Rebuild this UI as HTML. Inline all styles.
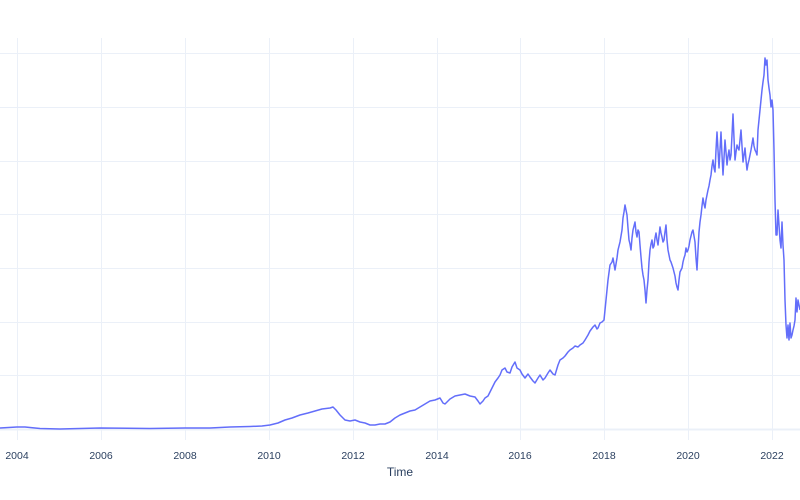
<!DOCTYPE html>
<html><head><meta charset="utf-8"><style>
html,body{margin:0;padding:0;background:#fff;width:800px;height:500px;overflow:hidden}
svg{display:block}
text{font-family:"Liberation Sans",sans-serif;fill:#2a3f5f}
</style></head><body>
<svg width="800" height="500" viewBox="0 0 800 500">
<g stroke="#ebf0f8" stroke-width="1">
<line x1="0" x2="800" y1="53.5" y2="53.5"/>
<line x1="0" x2="800" y1="107.5" y2="107.5"/>
<line x1="0" x2="800" y1="161.5" y2="161.5"/>
<line x1="0" x2="800" y1="214.5" y2="214.5"/>
<line x1="0" x2="800" y1="268.5" y2="268.5"/>
<line x1="0" x2="800" y1="322.5" y2="322.5"/>
<line x1="0" x2="800" y1="375.5" y2="375.5"/>
<line x1="17.5" x2="17.5" y1="38" y2="440"/>
<line x1="101.5" x2="101.5" y1="38" y2="440"/>
<line x1="185.5" x2="185.5" y1="38" y2="440"/>
<line x1="269.5" x2="269.5" y1="38" y2="440"/>
<line x1="353.5" x2="353.5" y1="38" y2="440"/>
<line x1="437.5" x2="437.5" y1="38" y2="440"/>
<line x1="520.5" x2="520.5" y1="38" y2="440"/>
<line x1="604.5" x2="604.5" y1="38" y2="440"/>
<line x1="688.5" x2="688.5" y1="38" y2="440"/>
<line x1="772.5" x2="772.5" y1="38" y2="440"/>
</g>
<line x1="0" x2="800" y1="429.5" y2="429.5" stroke="#ebf0f8" stroke-width="2"/>
<polyline fill="none" stroke="#636efa" stroke-width="1.5" stroke-linejoin="round" points="
0,428 17,427 25,427 40,428.5 60,429 100,428 150,428.5 185,428 210,428 230,427 250,426.5 262,426 270,425 278,423 285,420 292,418 300,415 308,413 315,411 322,409 330,408 333,407 336,410 340,415 345,420 350,421 355,420 360,422 365,423 370,425 375,425 380,424 385,424 390,422 395,418 400,415 405,413 410,411 415,410 420,407 425,404 430,401 435,400 440,398 443,403 445,404 450,399 455,396 460,395 465,394 470,396 475,397 478,401 480,404 483,401 485,398 488,396 490,392 493,386 495,382 498,378 500,375 502,370 505,368 507,372 510,373 512,367 515,362 517,368 520,370 522,374 525,378 528,374 530,377 533,381 535,383 538,378 540,375 543,380 545,378 548,373 550,370 553,374 555,375 558,365 560,360 563,358 565,356 568,352 570,350 573,348 575,346 578,347 580,345 583,343 585,340 588,335 590,331 593,327 595,325 597,329 598,328 600,323 602,322 604,320 606,300 608,280 610,265 612,262 613,258 615,270 617,258 618,250 620,242 622,230 623,218 624,212 625,205 626,210 627,215 628,228 629,240 630,244 631,250 632,238 633,230 634,226 635,222 636,232 637,237 638,230 639,232 640,245 641,257 642,268 643,275 644,280 645,290 646,303 647,290 648,280 649,262 650,250 651,244 652,240 653,248 654,246 655,238 656,233 657,240 658,245 659,236 660,227 661,233 662,237 663,242 664,240 665,232 666,225 667,240 668,250 669,255 670,260 671,262 672,265 673,268 674,272 675,276 676,283 677,287 678,290 679,280 680,272 681,270 682,268 683,262 684,258 685,255 686,248 687,252 688,250 689,246 690,240 691,236 692,232 693,230 694,236 695,242 696,258 697,270 698,250 699,232 700,222 701,215 702,206 703,198 704,204 705,208 706,200 707,195 708,190 709,186 710,180 711,175 712,166 713,160 714,168 715,172 716,150 717,132 718,150 719,168 720,150 721,132 722,155 723,175 724,158 725,140 726,152 727,165 728,156 729,150 730,160 731,155 732,135 733,114 734,138 735,160 736,152 737,145 738,148 739,150 740,140 741,130 742,146 743,162 744,155 745,148 746,160 747,170 748,164 749,160 750,155 751,150 752,144 753,138 754,146 755,150 756,152 757,155 758,130 759,120 760,110 761,100 762,90 763,82 764,75 765,58 766,65 767,60 768,80 769,88 770,95 771,107 772,100 773,110 774,150 775,200 776,235 777,235 778,210 779,225 780,240 781,248 782,222 783,245 784,260 785,300 786,325 787,338 788,325 789,340 790,323 791,338 792,335 793,330 794,326 795,320 796,298 797,312 798,300 799,305 800,310"/>
<g font-size="10.5" text-anchor="middle">
<text x="17" y="459">2004</text>
<text x="101" y="459">2006</text>
<text x="185" y="459">2008</text>
<text x="269" y="459">2010</text>
<text x="353" y="459">2012</text>
<text x="437" y="459">2014</text>
<text x="520" y="459">2016</text>
<text x="604" y="459">2018</text>
<text x="688" y="459">2020</text>
<text x="772" y="459">2022</text>
</g>
<text x="400" y="476" font-size="12" text-anchor="middle">Time</text>
</svg>
</body></html>
